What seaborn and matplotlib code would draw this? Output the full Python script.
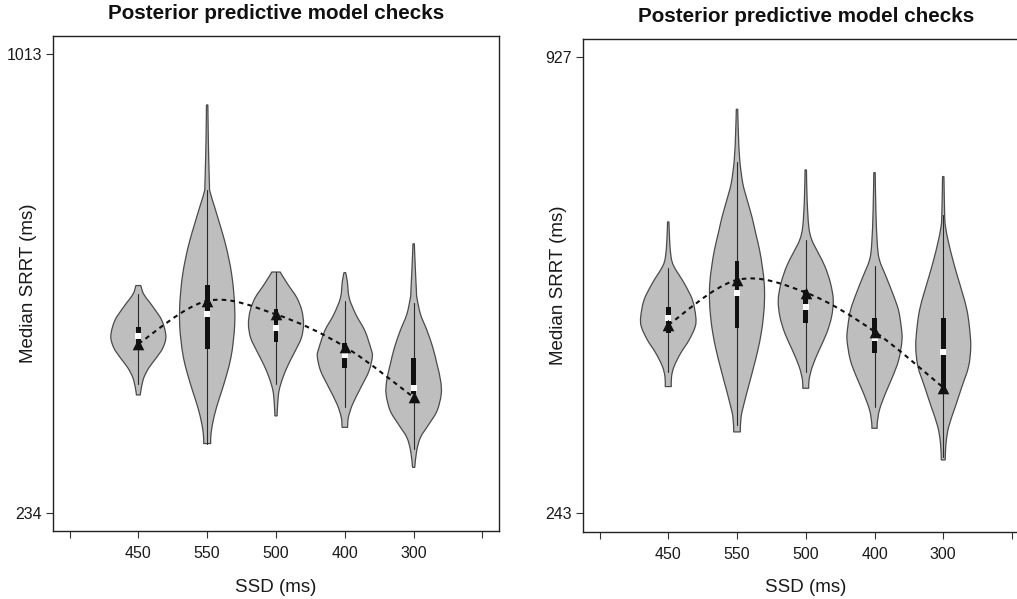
import numpy as np
import matplotlib
matplotlib.use("Agg")
import matplotlib.pyplot as plt
from matplotlib.path import Path
from matplotlib.patches import PathPatch, Rectangle
import seaborn as sns

# ---------------------------------------------------------------------------
# Data
# ---------------------------------------------------------------------------
ssd_labels = ["450", "550", "500", "400", "300"]
panel_title = "Posterior predictive model checks"
x_title = "SSD (ms)"
y_title = "Median SRRT (ms)"

# Panel A: y-axis range, observed medians and predictive summaries
range_a = [234, 1013]
observed_a = [521, 594, 571, 516, 430]
median_a = [534, 571, 548, 501.5, 446.5]
q1_a = [517, 512, 524, 480, 435]
q3_a = [550, 621, 580, 523, 497]
whisk_lo_a = [452, 351, 452, 413, 343]
whisk_hi_a = [605, 783, 643, 594, 591]
# predictive density profiles (value, density relative to its peak)
dens_y_a = [
    [620, 605, 582, 560, 534, 514, 497, 480, 463.5, 446.5, 434],
    [927, 865, 820, 791.5, 780, 752, 724, 695, 667, 639, 610.5, 582, 554,
     526, 497, 469, 441, 413, 384, 362, 351.5],
    [643, 622, 599, 577, 554, 531, 509, 486, 463.5, 441, 418, 398.5],
    [642, 627, 599, 571, 543, 514, 500, 475, 446.5, 418, 396, 379],
    [691, 661, 610.5, 599, 571, 543, 514, 486, 458, 435, 407, 384, 362, 339, 311],
]
dens_w_a = [
    [0.09, 0.2, 0.56, 0.86, 1.0, 0.89, 0.65, 0.38, 0.2, 0.11, 0.07],
    [0.025, 0.043, 0.065, 0.083, 0.1, 0.28, 0.46, 0.64, 0.78, 0.89, 0.96, 1.0,
     1.0, 0.95, 0.86, 0.71, 0.53, 0.34, 0.19, 0.13, 0.13],
    [0.15, 0.43, 0.76, 0.94, 1.0, 0.92, 0.7, 0.45, 0.25, 0.11, 0.06, 0.04],
    [0.03, 0.09, 0.16, 0.4, 0.73, 0.94, 1.0, 0.88, 0.58, 0.28, 0.13, 0.1],
    [0.025, 0.05, 0.1, 0.12, 0.25, 0.49, 0.7, 0.85, 0.98, 1.0, 0.85, 0.55,
     0.25, 0.11, 0.04],
]

# Panel B
range_b = [243, 927]
observed_b = [525.5, 593, 574, 515.5, 431.5]
median_b = [535.5, 573, 552, 506.5, 484.5]
q1_b = [513, 521.5, 528, 483, 428]
q3_b = [552, 621.5, 578, 535.5, 535.5]
whisk_lo_b = [455, 375.5, 455, 403, 328]
whisk_hi_b = [610.5, 770, 653, 614, 690.5]
dens_y_b = [
    [680, 653, 628, 613, 588, 563, 538, 523, 503, 483, 463, 448, 433],
    [849, 813, 773, 738, 713, 688, 663, 638, 613, 588, 563, 538, 513, 488,
     463, 438, 413, 388, 365],
    [758, 713, 673, 653, 633, 613, 588, 563, 538, 513, 488, 463, 443, 430.5],
    [754, 698, 648, 623, 598, 573, 548, 523, 503, 473, 448, 423, 398, 378, 370.5],
    [748, 693, 673, 648, 623, 598, 573, 548, 523, 493, 463, 433, 403, 373,
     348, 323],
]
dens_w_b = [
    [0.025, 0.05, 0.1, 0.21, 0.58, 0.88, 1.0, 0.98, 0.76, 0.45, 0.21, 0.12, 0.11],
    [0.025, 0.05, 0.1, 0.21, 0.37, 0.54, 0.68, 0.82, 0.92, 0.99, 1.0, 0.96,
     0.88, 0.76, 0.61, 0.45, 0.29, 0.15, 0.12],
    [0.025, 0.05, 0.11, 0.22, 0.46, 0.7, 0.9, 1.0, 0.94, 0.76, 0.49, 0.24,
     0.12, 0.11],
    [0.025, 0.05, 0.1, 0.18, 0.42, 0.66, 0.87, 0.97, 1.0, 0.88, 0.66, 0.4,
     0.18, 0.1, 0.1],
    [0.025, 0.05, 0.08, 0.2, 0.35, 0.52, 0.7, 0.86, 0.95, 1.0, 0.92, 0.68,
     0.44, 0.2, 0.1, 0.07],
]

# ---------------------------------------------------------------------------
# Style
# ---------------------------------------------------------------------------
sns.set_style("white")
plt.rcParams["font.family"] = ["Liberation Sans", "DejaVu Sans"]

VIOLIN_FILL = "#bebebe"
VIOLIN_EDGE = "#4a4a4a"
INK = "#111111"
HALF_WIDTH = 0.4      # half-width of a violin at its peak density (x units)
BOX_WIDTH = 0.07


def smooth_through(points):
    """Cubic Bezier pieces (Catmull-Rom tangents) passing through points."""
    pts = np.asarray(points, float)
    ext = np.vstack([pts[0], pts, pts[-1]])
    verts, codes = [], []
    for i in range(1, len(ext) - 2):
        p0, p1, p2, p3 = ext[i - 1], ext[i], ext[i + 1], ext[i + 2]
        verts += [p1 + (p2 - p0) / 6.0, p2 - (p3 - p1) / 6.0, p2]
        codes += [Path.CURVE4] * 3
    return verts, codes


def violin_patch(xc, ys, ws):
    right = [(xc + HALF_WIDTH * w, y) for y, w in zip(ys, ws)]
    left = [(xc - HALF_WIDTH * w, y) for y, w in zip(ys[::-1], ws[::-1])]
    verts = [left[-1], right[0]]
    codes = [Path.MOVETO, Path.LINETO]
    v, c = smooth_through(right)
    verts += v
    codes += c
    verts.append(left[0])
    codes.append(Path.LINETO)
    v, c = smooth_through(left)
    verts += v
    codes += c
    verts.append(left[-1])
    codes.append(Path.CLOSEPOLY)
    return PathPatch(Path(verts, codes), facecolor=VIOLIN_FILL,
                     edgecolor=VIOLIN_EDGE, linewidth=0.9, zorder=1)


def draw_panel(ax, yr, observed, median, q1, q3, wlo, whi, dys, dws):
    pos = np.arange(1, len(ssd_labels) + 1)
    for i, xc in enumerate(pos):
        ax.add_patch(violin_patch(xc, dys[i], dws[i]))
        ax.plot([xc, xc], [wlo[i], whi[i]], color="#2a2a2a", lw=0.8, zorder=2)
        ax.add_patch(Rectangle((xc - BOX_WIDTH / 2, q1[i]), BOX_WIDTH,
                               q3[i] - q1[i], facecolor=INK, edgecolor="none",
                               zorder=3))
    sns.scatterplot(x=pos, y=median, marker="s", s=14, color="white",
                    linewidth=0, ax=ax, zorder=4)

    # observed medians joined by a smooth dashed curve
    v, c = smooth_through(list(zip(pos, observed)))
    curve = Path([(pos[0], observed[0])] + v, [Path.MOVETO] + c)
    ax.add_patch(PathPatch(curve, fill=False, edgecolor=INK, lw=1.5,
                           linestyle=(0, (2.2, 2.0)), zorder=5))
    sns.scatterplot(x=pos, y=observed, marker="^", s=70, color=INK,
                    linewidth=0, ax=ax, zorder=6)

    span = yr[1] - yr[0]
    ax.set_ylim(yr[0] - 0.04 * span, yr[1] + 0.04 * span)
    ax.set_xlim(-0.24, 6.24)
    ax.set_xticks(range(0, 7))
    ax.set_xticklabels([""] + ssd_labels + [""])
    ax.set_yticks(yr)
    ax.set_yticklabels([str(v) for v in yr])
    ax.tick_params(axis="both", which="major", bottom=True, left=True,
                   direction="out", length=5, width=0.8,
                   color="#333333", labelsize=11.5, labelcolor="#1a1a1a")
    ax.tick_params(axis="x", pad=6)
    ax.tick_params(axis="y", pad=3)
    for sp in ax.spines.values():
        sp.set_visible(True)
        sp.set_color("#222222")
        sp.set_linewidth(1.0)
    ax.set_title(panel_title, fontsize=14.9, fontweight="bold", pad=12,
                 color="#111111")
    ax.set_xlabel(x_title, fontsize=13.5, color="#1a1a1a")
    ax.set_ylabel(y_title, fontsize=13.5, color="#1a1a1a")
    ax.xaxis.set_label_coords(0.5, -0.097)
    ax.yaxis.set_label_coords(-0.036, 0.5)


fig = plt.figure(figsize=(10.17, 5.99), dpi=100)
W, H = 1017.0, 599.0
ax_a = fig.add_axes([53 / W, 1 - 531 / H, 446 / W, 495 / H])
ax_b = fig.add_axes([583 / W, 1 - 531.5 / H, 445.5 / W, 492.5 / H])

draw_panel(ax_a, range_a, observed_a, median_a, q1_a, q3_a,
           whisk_lo_a, whisk_hi_a, dens_y_a, dens_w_a)
draw_panel(ax_b, range_b, observed_b, median_b, q1_b, q3_b,
           whisk_lo_b, whisk_hi_b, dens_y_b, dens_w_b)

fig.savefig("out.png", dpi=100, facecolor="white")
